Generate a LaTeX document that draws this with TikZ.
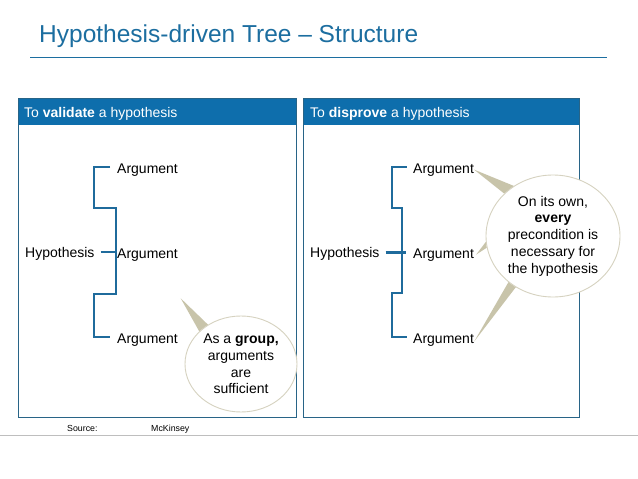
\documentclass[tikz,border=0pt]{standalone}
\usepackage{fontspec}
\setmainfont{Liberation Sans}
\usetikzlibrary{shapes.geometric}
\pgfdeclarelayer{bg}
\pgfsetlayers{bg,main}
\definecolor{titleblue}{RGB}{28,110,160}
\definecolor{headblue}{RGB}{14,110,172}
\definecolor{frameblue}{RGB}{40,100,135}
\definecolor{brblue}{RGB}{31,107,156}
\definecolor{tailc}{RGB}{200,196,170}
\definecolor{callc}{RGB}{214,210,192}
\definecolor{footgray}{RGB}{190,190,190}
\begin{document}
\begin{tikzpicture}[x=1pt,y=-1pt,
  txt/.style={inner sep=0pt, anchor=base west, font=\fontsize{14}{16.7}\selectfont},
  headtxt/.style={txt, text=white},
  foottxt/.style={inner sep=0pt, anchor=base west, font=\fontsize{8.8}{10}\selectfont},
  panelframe/.style={draw=frameblue, line width=1pt},
  panelhead/.style={fill=headblue},
  bracket/.style={draw=brblue, line width=2.2pt},
  tail/.style={fill=tailc},
  callout/.style={ellipse, draw=callc, line width=0.9pt, fill=white, inner sep=0pt,
    align=center, font=\fontsize{14}{16.7}\selectfont}]
\useasboundingbox (0,0) rectangle (638,479);
\begin{pgfonlayer}{bg}
\fill[white] (0,0) rectangle (638,479);
\end{pgfonlayer}

% title
\node[inner sep=0pt, anchor=base west, text=titleblue, font=\fontsize{24.5}{29}\selectfont] (title) at (39,42.5) {Hypothesis-driven Tree -- Structure};
\draw[titleblue, line width=1.2pt] (30,57.7) -- (607,57.7);

% panels
\fill[panelhead] (18,98) rectangle (296,125);
\draw[panelframe] (18,98) rectangle (296,417);
\fill[panelhead] (303,98) rectangle (579,125);
\draw[panelframe] (303,98) rectangle (579,417);
\node[headtxt] (lhead) at (24,117) {To \textbf{validate} a hypothesis};
\node[headtxt] (rhead) at (310,117) {To \textbf{disprove} a hypothesis};

% left tree
\node[txt] (lhyp) at (25,257.7) {Hypothesis};
\node[txt] (la1) at (117,173) {Argument};
\node[txt] (la2) at (117,258) {Argument};
\node[txt] (la3) at (117,343) {Argument};
\draw[bracket] (110,166.7) -- (94.3,166.7) -- (94.3,208) -- (116,208) -- (116,294.3)
  -- (94.3,294.3) -- (94.3,336.7) -- (110,336.7);
\draw[bracket] (100.7,252) -- (116.5,252);

% right tree
\node[txt] (rhyp) at (310,257.7) {Hypothesis};
\node[txt] (ra1) at (413,173) {Argument};
\node[txt] (ra2) at (413,258) {Argument};
\node[txt] (ra3) at (413,343) {Argument};
\draw[bracket] (406.7,166.7) -- (391.7,166.7) -- (391.7,208) -- (401.7,208) -- (401.7,293)
  -- (391.7,293) -- (391.7,336.7) -- (406.7,336.7);
\draw[bracket, line width=3pt] (385.7,252.3) -- (406,252.3);

% callouts
\node[callout, minimum width=112pt, minimum height=96pt] (lc) at (241,364)
  {As a \textbf{group,}\\arguments\\are\\sufficient};
\node[callout, minimum width=134pt, minimum height=122pt] (rc) at (553,236)
  {On its own,\\\textbf{every}\\precondition is\\necessary for\\the hypothesis};
\coordinate (ltip) at (180.7,298.3);
\begin{pgfonlayer}{bg}
\fill[tail] (ltip) -- (lc.142) -- (lc.130) -- cycle;
\fill[tail] (ra1.east) -- (rc.139) -- (rc.128) -- cycle;
\fill[tail] ([xshift=2pt]ra2.east) -- (rc.190) -- (rc.185) -- cycle;
\fill[tail] ([yshift=-2pt]ra3.east) -- (rc.226) -- (rc.234) -- cycle;
\end{pgfonlayer}

% footer
\node[foottxt] (src) at (67,431.5) {Source:};
\node[foottxt] (mck) at (151,431.5) {McKinsey};
\draw[footgray, line width=1.5pt] (0,435.5) -- (638,435.5);
\end{tikzpicture}
\end{document}
